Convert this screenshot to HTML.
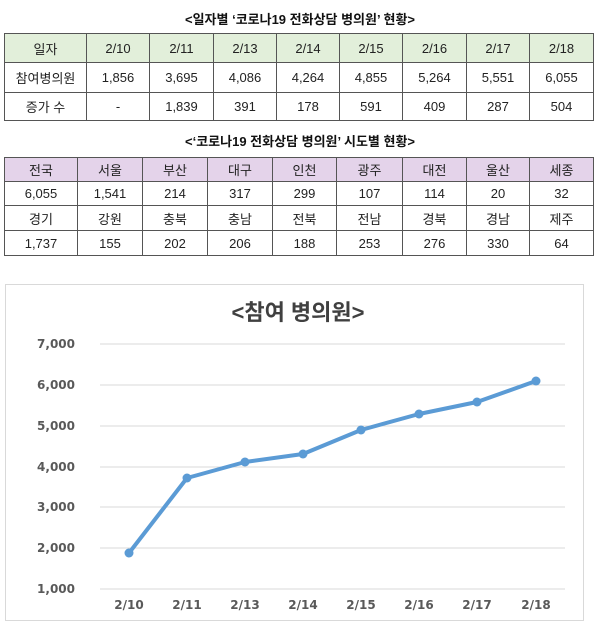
<!DOCTYPE html>
<html><head><meta charset="utf-8"><style>
body{margin:0;width:600px;height:631px;background:#fff;font-family:"Liberation Sans","Noto Sans CJK KR",sans-serif;position:relative;overflow:hidden}
.t{position:absolute;left:0;width:600px;text-align:center;font-weight:bold;font-size:13px;color:#111}
table{position:absolute;left:4px;border-collapse:collapse;font-size:13px;color:#222;table-layout:fixed}
td{border:1px solid #555;text-align:center;padding:0}
</style></head><body>
<div class="t" style="top:9px">&lt;일자별 ‘코로나19 전화상담 병의원’ 현황&gt;</div>
<table style="top:33px;width:589px">
<colgroup><col style="width:82px"><col style="width:63px"><col style="width:64px"><col style="width:63px"><col style="width:63px"><col style="width:63px"><col style="width:64px"><col style="width:63px"><col style="width:64px"></colgroup>
<tr style="height:29px;background:#e2efda"><td>일자</td><td>2/10</td><td>2/11</td><td>2/13</td><td>2/14</td><td>2/15</td><td>2/16</td><td>2/17</td><td>2/18</td></tr>
<tr style="height:30px"><td>참여병의원</td><td>1,856</td><td>3,695</td><td>4,086</td><td>4,264</td><td>4,855</td><td>5,264</td><td>5,551</td><td>6,055</td></tr>
<tr style="height:28px"><td>증가 수</td><td>-</td><td>1,839</td><td>391</td><td>178</td><td>591</td><td>409</td><td>287</td><td>504</td></tr>
</table>
<div class="t" style="top:131px">&lt;‘코로나19 전화상담 병의원’ 시도별 현황&gt;</div>
<table style="top:157px;width:589px">
<colgroup><col style="width:73px"><col style="width:65px"><col style="width:65px"><col style="width:65px"><col style="width:64px"><col style="width:66px"><col style="width:64px"><col style="width:63px"><col style="width:64px"></colgroup>
<tr style="height:24px;background:#e4d3ea"><td>전국</td><td>서울</td><td>부산</td><td>대구</td><td>인천</td><td>광주</td><td>대전</td><td>울산</td><td>세종</td></tr>
<tr style="height:24px"><td>6,055</td><td>1,541</td><td>214</td><td>317</td><td>299</td><td>107</td><td>114</td><td>20</td><td>32</td></tr>
<tr style="height:25px"><td>경기</td><td>강원</td><td>충북</td><td>충남</td><td>전북</td><td>전남</td><td>경북</td><td>경남</td><td>제주</td></tr>
<tr style="height:25px"><td>1,737</td><td>155</td><td>202</td><td>206</td><td>188</td><td>253</td><td>276</td><td>330</td><td>64</td></tr>
</table>
<svg style="position:absolute;left:0;top:0" width="600" height="631">
<rect x="5.5" y="284.5" width="578" height="336" fill="none" stroke="#d9d9d9"/>
<text x="298" y="320" text-anchor="middle" font-size="22" font-weight="bold" fill="#404040" font-family="Liberation Sans,Noto Sans CJK KR,sans-serif">&lt;참여 병의원&gt;</text>
<g stroke="#d9d9d9" stroke-width="1">
<line x1="100" x2="565" y1="344" y2="344"/><line x1="100" x2="565" y1="385" y2="385"/><line x1="100" x2="565" y1="426" y2="426"/><line x1="100" x2="565" y1="467" y2="467"/><line x1="100" x2="565" y1="507" y2="507"/><line x1="100" x2="565" y1="548" y2="548"/><line x1="100" x2="565" y1="589" y2="589"/>
</g>
<g font-family="DejaVu Sans,sans-serif" font-size="12" font-weight="bold" fill="#595959" text-anchor="end">
<text x="75" y="348">7,000</text><text x="75" y="389">6,000</text><text x="75" y="430">5,000</text><text x="75" y="471">4,000</text><text x="75" y="511">3,000</text><text x="75" y="552">2,000</text><text x="75" y="593">1,000</text>
</g>
<g font-family="DejaVu Sans,sans-serif" font-size="12" font-weight="bold" fill="#595959" text-anchor="middle">
<text x="129" y="609">2/10</text><text x="187" y="609">2/11</text><text x="245" y="609">2/13</text><text x="303" y="609">2/14</text><text x="361" y="609">2/15</text><text x="419" y="609">2/16</text><text x="477" y="609">2/17</text><text x="536" y="609">2/18</text>
</g>
<polyline fill="none" stroke="#5b9bd5" stroke-width="4" stroke-linejoin="round" points="129,553 187,478 245,462 303,454 361,430 419,414 477,402 536,381"/>
<g fill="#5b9bd5">
<circle cx="129" cy="553" r="4.5"/><circle cx="187" cy="478" r="4.5"/><circle cx="245" cy="462" r="4.5"/><circle cx="303" cy="454" r="4.5"/><circle cx="361" cy="430" r="4.5"/><circle cx="419" cy="414" r="4.5"/><circle cx="477" cy="402" r="4.5"/><circle cx="536" cy="381" r="4.5"/>
</g>
</svg>
</body></html>
